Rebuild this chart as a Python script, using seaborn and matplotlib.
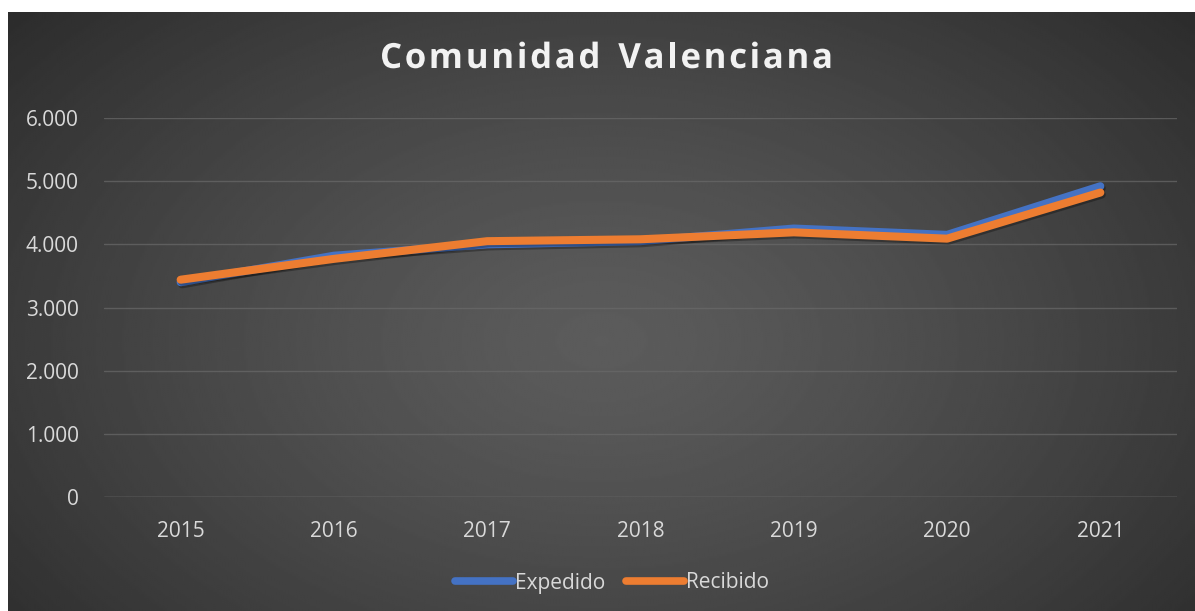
import matplotlib

matplotlib.use("Agg")
import matplotlib.patheffects as pe
import matplotlib.pyplot as plt
import numpy as np
import pandas as pd
import seaborn as sns

years = ["2015", "2016", "2017", "2018", "2019", "2020", "2021"]
expedido = [3400, 3820, 4000, 4050, 4250, 4150, 4920]
recibido = [3440, 3770, 4050, 4080, 4190, 4090, 4820]
series = ["Expedido", "Recibido"]
colors = ["#4472C4", "#ED7D31"]
yticks = [0, 1000, 2000, 3000, 4000, 5000, 6000]
ytick_labels = ["0", "1.000", "2.000", "3.000", "4.000", "5.000", "6.000"]
title = "Comunidad Valenciana"

df = pd.DataFrame(
    {
        "year": years * 2,
        "value": expedido + recibido,
        "serie": [series[0]] * len(years) + [series[1]] * len(years),
    }
)

sns.set_theme(style="dark")
plt.rcParams["font.family"] = ["Open Sans", "DejaVu Sans"]

W, H = 1195, 611
fig = plt.figure(figsize=(W / 100, H / 100), dpi=100)
fig.patch.set_facecolor("white")

# dark radial background (chart area, white margin at top/left)
bg = fig.add_axes([8 / W, 0, 1 - 8 / W, 1 - 12 / H])
bg.set_axis_off()
gy, gx = np.mgrid[0:1:300j, 0:1:600j]
r = np.sqrt(((gx - 0.5) / 0.75) ** 2 + ((gy - 0.55) / 0.95) ** 2)
shade = 0.36 - 0.22 * np.clip(r, 0, 1) ** 1.3
bg.imshow(shade, cmap="gray", vmin=0, vmax=1, aspect="auto", interpolation="bilinear")

ax = fig.add_axes([104 / W, (H - 497) / H, (1177 - 104) / W, (497 - 118) / H])
ax.set_facecolor("none")

sns.lineplot(
    data=df,
    x="year",
    y="value",
    hue="serie",
    palette=colors,
    linewidth=5.8,
    sort=False,
    ax=ax,
)
for line in ax.get_lines():
    line.set_solid_capstyle("round")
    line.set_solid_joinstyle("round")
    line.set_path_effects(
        [pe.SimpleLineShadow(offset=(1, -1.5), alpha=0.3, shadow_color="black"), pe.Normal()]
    )

ax.set_xlim(-0.5, len(years) - 0.5)
ax.set_ylim(0, 6000)
ax.set_yticks(yticks)
ax.set_yticklabels(ytick_labels)
ax.set_xlabel("")
ax.set_ylabel("")
ax.tick_params(axis="both", length=0, labelsize=15, colors="#d9d9d9")
ax.tick_params(axis="y", pad=18)
ax.tick_params(axis="x", pad=17)
ax.grid(axis="y", color="#6a6a6a", linewidth=1.0, alpha=0.7)
ax.grid(axis="x", visible=False)
for s in ax.spines.values():
    s.set_visible(False)
ax.axhline(0, color="#6e6e6e", linewidth=1.0, zorder=0)

ax.legend_.remove()
handles = [plt.Line2D([], [], color=c, linewidth=5.5, solid_capstyle="round") for c in colors]
fig.legend(
    handles,
    series,
    loc="center",
    bbox_to_anchor=(612 / W, 28 / H),
    ncol=2,
    frameon=False,
    fontsize=15,
    labelcolor="#d9d9d9",
    handlelength=2.8,
    handletextpad=0.1,
    columnspacing=1.0,
)

# title with wide letter spacing: place characters one by one
renderer = fig.canvas.get_renderer()
title_kw = dict(fontsize=25, fontweight="bold", color="#f2f2f2", va="center", ha="left")
widths = []
for ch in title:
    t = fig.text(0, 0, ch if ch != " " else "n", **title_kw)
    widths.append(t.get_window_extent(renderer).width * (0.55 if ch == " " else 1))
    t.remove()
spacing = ((833 - 380) - sum(widths)) / (len(title) - 1)
x = 380.0
for ch, w in zip(title, widths):
    if ch != " ":
        fig.text(
            x / W,
            (H - 59) / H,
            ch,
            path_effects=[pe.withSimplePatchShadow(offset=(1, -1.5), alpha=0.35)],
            **title_kw,
        )
    x += w + spacing

fig.savefig("out.png", dpi=100)
